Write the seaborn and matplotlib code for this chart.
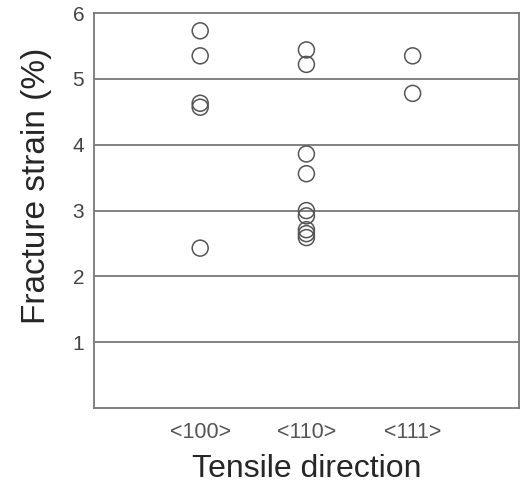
import pandas as pd
import matplotlib.pyplot as plt
import seaborn as sns

directions = ['<100>', '<110>', '<111>']
strain_100 = [5.73, 5.35, 4.63, 4.57, 2.43]
strain_110 = [5.44, 5.22, 3.86, 3.56, 3.0, 2.92, 2.71, 2.65, 2.59]
strain_111 = [5.35, 4.78]

df = pd.DataFrame({
    'direction': ['<100>'] * len(strain_100) + ['<110>'] * len(strain_110) + ['<111>'] * len(strain_111),
    'strain': strain_100 + strain_110 + strain_111,
})

sns.set_style('white')
plt.rcParams['font.family'] = ['Liberation Sans', 'DejaVu Sans']

fig = plt.figure(figsize=(5.22, 4.83), dpi=100)
ax = fig.add_axes([0.180, 0.155, 0.814, 0.818])

sns.stripplot(data=df, x='direction', y='strain', order=directions, jitter=False,
              ax=ax, color='#555555', size=11.5, linewidth=1.1, edgecolor='#555555')
for c in ax.collections:
    c.set_facecolor('none')

ax.set_xlim(-1, 3)
ax.set_ylim(0, 6)
ax.set_yticks([1, 2, 3, 4, 5, 6])
for y in [1, 2, 3, 4, 5]:
    ax.axhline(y, color='#777777', lw=1.3, zorder=0)

for s in ax.spines.values():
    s.set_color('#777777')
    s.set_linewidth(1.3)

ax.tick_params(axis='x', direction='in', length=8, width=1.2, color='#777777',
               labelsize=15.5, labelcolor='#555555', pad=10)
ax.tick_params(axis='y', length=0, labelsize=15, labelcolor='#444444', pad=7)
ax.set_xlabel('Tensile direction', fontsize=23, labelpad=8)
ax.set_ylabel('Fracture strain (%)', fontsize=24, va='center')
ax.yaxis.set_label_coords(-0.136, 0.562)

plt.savefig('out.png', dpi=100)
